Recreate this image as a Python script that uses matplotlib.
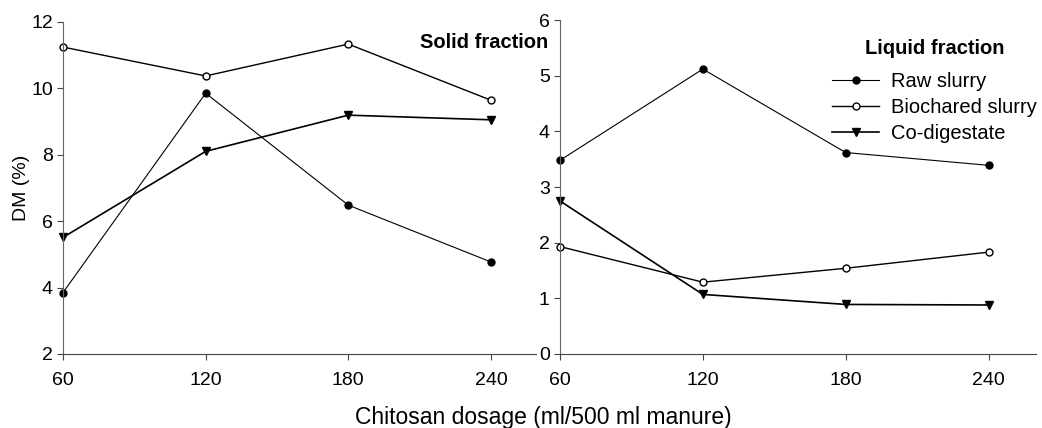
import numpy as np
import matplotlib.pyplot as plt

plt.rcParams['font.family'] = ['Liberation Sans', 'DejaVu Sans']
plt.rcParams['font.size'] = 14

# --- Data ---
dosage = [60, 120, 180, 240]
series_names = ["Raw slurry", "Biochared slurry", "Co-digestate"]

solid_raw = [3.85, 9.85, 6.48, 4.77]
solid_biochar = [11.24, 10.37, 11.33, 9.64]
solid_codig = [5.51, 8.10, 9.19, 9.05]

liquid_raw = [3.48, 5.12, 3.62, 3.39]
liquid_biochar = [1.93, 1.29, 1.54, 1.83]
liquid_codig = [2.75, 1.07, 0.89, 0.88]

x_ticks = [60, 120, 180, 240]

# --- Styles ---
styles = [
    dict(marker='o', markerfacecolor='black', markeredgecolor='black', markersize=5),
    dict(marker='o', markerfacecolor='white', markeredgecolor='black', markersize=5),
    dict(marker='v', markerfacecolor='black', markeredgecolor='black', markersize=6),
]
line_widths = [0.8, 1.0, 1.2]

fig = plt.figure(figsize=(10.42, 4.28), dpi=100)
ax1 = fig.add_axes([0.0605, 0.173, 0.454, 0.776])
ax2 = fig.add_axes([0.5374, 0.173, 0.457, 0.780])

for ax in (ax1, ax2):
    for s in ['top', 'right']:
        ax.spines[s].set_visible(False)
    ax.spines['left'].set_color('#666666')
    ax.spines['bottom'].set_color('#444444')
    ax.tick_params(direction='out', length=4.3, width=0.8, colors='#444444',
                   labelcolor='black', labelsize=14)
    ax.tick_params(axis='x', pad=8.5)
    ax.tick_params(axis='y', pad=3)
    ax.set_xticks(x_ticks)

# --- Solid fraction ---
for vals, st, lw, name in zip([solid_raw, solid_biochar, solid_codig], styles, line_widths, series_names):
    ax1.plot(dosage, vals, color='black', lw=lw, label=name, clip_on=False, **st)
ax1.set_xlim(60, 259)
ax1.set_ylim(2, 12)
ax1.set_yticks([2, 4, 6, 8, 10, 12])
ax1.set_ylabel("DM (%)", fontsize=14, labelpad=1)

# --- Liquid fraction ---
for vals, st, lw, name in zip([liquid_raw, liquid_biochar, liquid_codig], styles, line_widths, series_names):
    ax2.plot(dosage, vals, color='black', lw=lw, label=name, clip_on=False, **st)
ax2.set_xlim(60, 260)
ax2.set_ylim(0, 6)
ax2.set_yticks([0, 1, 2, 3, 4, 5, 6])

leg = ax2.legend(title="Liquid fraction", loc='upper left',
                 bbox_to_anchor=(832 / 1042, 0.909), bbox_transform=fig.transFigure,
                 frameon=False, fontsize=14.5, handlelength=2.35, handletextpad=0.6,
                 labelspacing=0.35, borderpad=0.0, borderaxespad=0.0,
                 title_fontproperties={'weight': 'bold', 'size': 14.5})
leg._legend_box.sep = 10

fig.text(548 / 1042, 1 - 42 / 428, "Solid fraction", ha='right', va='center',
         fontsize=14.5, fontweight='bold')
fig.text(543 / 1042, 1 - 424 / 428, "Chitosan dosage (ml/500 ml manure)",
         ha='center', va='baseline', fontsize=16.5)

plt.savefig("out.png", dpi=100)
